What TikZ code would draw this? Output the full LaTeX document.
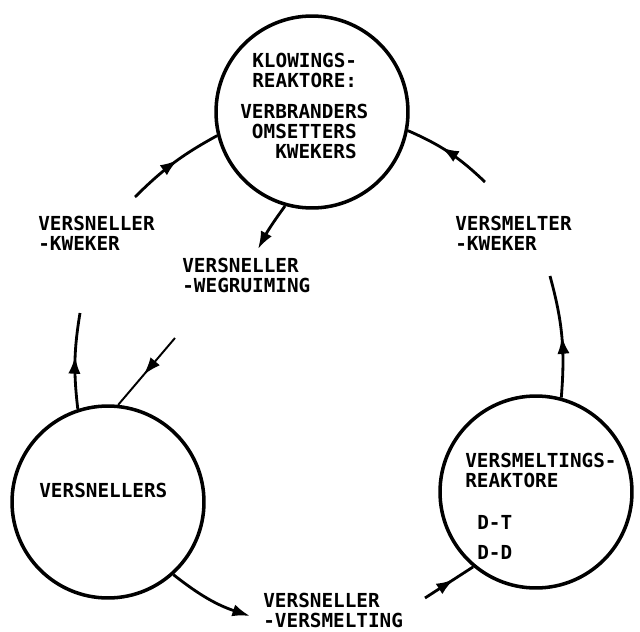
\documentclass[tikz,border=0pt]{standalone}
\usepackage{fontspec}
\newfontfamily\etiketfont{DejaVu Sans Mono}
\usetikzlibrary{arrows.meta,decorations.markings}
\tikzset{
  reaktor/.style={draw, circle, line width=2pt, minimum size=3.84cm, inner sep=0pt},
  vloei/.style={line width=1.6pt},
  pyl/.style={-{Latex[length=10pt,width=7pt]}},
  midpyl/.style={postaction={decorate}, decoration={markings,
      mark=at position #1 with {\arrow{Latex[length=10pt,width=7pt]}}}},
  etiket/.style={font=\etiketfont\bfseries\fontsize{11}{11.4}\selectfont,
      align=left, anchor=north west, inner sep=0pt}
}
\begin{document}
\begin{tikzpicture}[x=0.02cm, y=-0.02cm]
	% Raam van die prent
	\def\breedte{640}
	\def\hoogte{632}
	\useasboundingbox (0,0) rectangle (\breedte,\hoogte);
	% Reaktore en versnellers
	\node [reaktor] (splyt) at (312,112) {};
	\node [reaktor] (vsn) at (108,502) {};
	\node [reaktor] (smelt) at (536,492) {};
	% Teks in die sirkels
	\node [etiket] (splyt1) at (252,53) {KLOWINGS-\\REAKTORE:};
	\node [etiket] (splyt2) at (240,104) {VERBRANDERS\\\phantom{V}OMSETTERS\\\phantom{VER}KWEKERS};
	\node [etiket] (vsn1) at (39,483) {VERSNELLERS};
	\node [etiket] (smelt1) at (465,453) {VERSMELTINGS-\\REAKTORE};
	\node [etiket] (dt) at (477,515) {D-T};
	\node [etiket] (dd) at (477,545) {D-D};
	% Byskrifte
	\node [etiket] (kw) at (38,216) {VERSNELLER\\-KWEKER};
	\node [etiket] (wg) at (182,258) {VERSNELLER\\-WEGRUIMING};
	\node [etiket] (smkw) at (455,216) {VERSMELTER\\-KWEKER};
	\node [etiket] (vvs) at (263,593) {VERSNELLER\\-VERSMELTING};
	% Vrye punte van die pyle
	\coordinate (kw0) at (135,197);
	\coordinate (wg0) at (258,249);
	\coordinate (smkw0) at (485,182);
	\coordinate (vsn0) at (80,313);
	\coordinate (wg1) at (175,338);
	\coordinate (vvs0) at (250,616);
	\coordinate (vvs1) at (425,598);
	\coordinate (smelt0) at (550,276);
	% Vloei
	\draw [vloei, midpyl=0.55] (kw0) to[bend left=8] (splyt.194);
	\draw [vloei, pyl] (splyt.254) to[bend right=4] (wg0);
	\draw [vloei, midpyl=0.6] (smkw0) to[bend right=10] (splyt.-11);
	\draw [vloei, midpyl=0.55] (vsn.108) to[bend left=8] (vsn0);
	\draw [line width=1.1pt, midpyl=0.55] (wg1) -- (vsn.84);
	\draw [vloei, pyl] (vsn.-48) to[bend right=10] (vvs0);
	\draw [vloei, midpyl=0.6] (vvs1) -- (smelt.-130);
	\draw [vloei, midpyl=0.5] (smelt.75) to[bend right=10] (smelt0);
\end{tikzpicture}
\end{document}
